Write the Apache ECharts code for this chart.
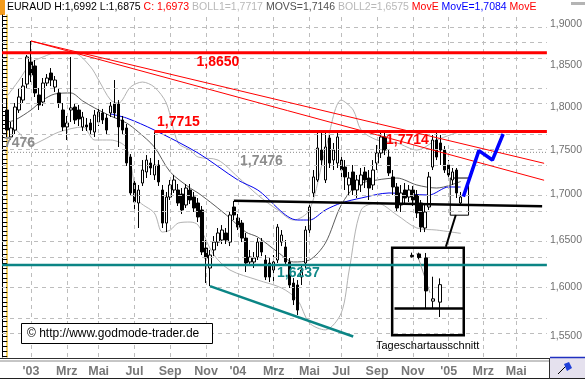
<!DOCTYPE html>
<html><head><meta charset="utf-8">
<script src="https://cdn.jsdelivr.net/npm/echarts@6/dist/echarts.min.js"></script>
<style>html,body{margin:0;padding:0;background:#fff}#c{width:585px;height:379px}</style>
</head><body><div id="c"></div>
<script>
// ---- weekly candles EUR/AUD, index 0 = 22.11.2002, [open, close, low, high]
const candles = [
[1.7966,1.7732,1.7640,1.8107],[1.7652,1.7756,1.7617,1.7826],[1.7732,1.8001,1.7686,1.8048],[1.7966,1.8119,1.7931,1.8226],
[1.8083,1.8249,1.8048,1.8345],[1.8273,1.8599,1.8226,1.8623],[1.8538,1.8381,1.8297,1.8794],[1.8490,1.8167,1.8119,1.8562],
[1.8143,1.8025,1.7966,1.8226],[1.8060,1.8285,1.8013,1.8345],[1.8285,1.8345,1.8249,1.8393],[1.8405,1.8321,1.8249,1.8465],
[1.8237,1.8321,1.8178,1.8369],[1.8167,1.8048,1.7990,1.8226],[1.7966,1.7768,1.7721,1.8048],[1.7768,1.7814,1.7617,1.7896],
[1.7966,1.7990,1.7826,1.8599],[1.8001,1.7849,1.7802,1.8048],[1.7966,1.7861,1.7779,1.8025],[1.7768,1.7884,1.7721,1.7943],
[1.7791,1.7768,1.7721,1.7872],[1.7814,1.7732,1.7686,1.7861],[1.7709,1.7907,1.7652,1.7966],[1.7826,1.7943,1.7779,1.8001],
[1.7931,1.7849,1.7802,1.7978],[1.7872,1.7732,1.7686,1.7919],[1.7931,1.8013,1.7884,1.8060],[1.8037,1.7931,1.7872,1.8321],
[1.8037,1.7768,1.7537,1.8083],[1.7849,1.7732,1.7686,1.7896],[1.7756,1.7355,1.7321,1.7802],[1.7422,1.7018,1.6984,1.7456],
[1.7129,1.6918,1.6797,1.7185],[1.6907,1.7051,1.6633,1.7107],[1.7129,1.7275,1.7096,1.7388],[1.7253,1.7388,1.7185,1.7445],
[1.7354,1.7298,1.7219,1.7411],[1.7219,1.7332,1.7163,1.7715],[1.7332,1.7141,1.7096,1.7388],[1.7051,1.6687,1.6633,1.7107],
[1.6687,1.6973,1.6589,1.7029],[1.6973,1.7107,1.6940,1.7163],[1.7051,1.7163,1.7018,1.7219],[1.7051,1.6907,1.6874,1.7118],
[1.7006,1.6830,1.6786,1.7073],[1.6885,1.7073,1.6852,1.7118],[1.7051,1.6940,1.6896,1.7118],[1.6973,1.6852,1.6808,1.7029],
[1.6907,1.6753,1.6698,1.6962],[1.6830,1.6375,1.6342,1.6874],[1.6417,1.6310,1.6046,1.6503],[1.6204,1.6342,1.6014,1.6396],
[1.6396,1.6481,1.6331,1.6546],[1.6481,1.6579,1.6438,1.6633],[1.6503,1.6611,1.6460,1.6665],[1.6579,1.6503,1.6460,1.6633],
[1.6481,1.6775,1.6438,1.6808],[1.6863,1.6775,1.6720,1.6929],[1.6742,1.6643,1.6611,1.6786],[1.6687,1.6524,1.6481,1.6720],
[1.6524,1.6257,1.6162,1.6579],[1.6268,1.6321,1.6225,1.6396],[1.6268,1.6310,1.6204,1.6374],[1.6321,1.6481,1.6289,1.6524],
[1.6481,1.6374,1.6331,1.6524],[1.6289,1.6109,1.6077,1.6342],[1.6257,1.6109,1.6056,1.6310],[1.6183,1.6268,1.6025,1.6342],
[1.6289,1.6643,1.6257,1.6676],[1.6481,1.6557,1.6438,1.6611],[1.6428,1.6268,1.6225,1.6503],[1.6268,1.6025,1.5994,1.6310],
[1.6046,1.5869,1.5817,1.6098],[1.6025,1.5765,1.5714,1.6077],[1.6109,1.6183,1.6025,1.6236],[1.6257,1.6611,1.6204,1.6654],
[1.6611,1.6863,1.6579,1.6918],[1.7018,1.7197,1.6973,1.7275],[1.7163,1.7525,1.7141,1.7698],[1.7502,1.7388,1.7332,1.7698],
[1.7163,1.7537,1.7129,1.7732],[1.7640,1.7354,1.7298,1.7675],[1.7388,1.7502,1.7275,1.7583],[1.7354,1.7652,1.7298,1.7698],
[1.7388,1.7275,1.7163,1.7445],[1.7309,1.7197,1.7051,1.7388],[1.7107,1.7185,1.6995,1.7253],[1.7253,1.7051,1.6995,1.7332],
[1.7051,1.7163,1.6962,1.7219],[1.7107,1.7219,1.7029,1.7298],[1.7253,1.7163,1.7073,1.7309],[1.7185,1.7073,1.6940,1.7275],
[1.7107,1.7275,1.7051,1.7388],[1.7354,1.7468,1.7275,1.7560],[1.7468,1.7652,1.7411,1.7714],[1.7652,1.7502,1.7445,1.7732],
[1.7422,1.7242,1.7208,1.7502],[1.7197,1.7085,1.6995,1.7275],[1.7085,1.6852,1.6808,1.7129],[1.6885,1.7018,1.6808,1.7107],
[1.7051,1.6962,1.6885,1.7129],[1.6973,1.7051,1.6918,1.7107],[1.7051,1.6940,1.6874,1.7096],[1.6995,1.6797,1.6742,1.7051],
[1.6907,1.6643,1.6589,1.6940],[1.6633,1.6808,1.6589,1.6885],[1.6863,1.7197,1.6830,1.7253],[1.7309,1.7617,1.7275,1.7675],
[1.7617,1.7422,1.7388,1.7698],[1.7583,1.7502,1.7332,1.7675],[1.7502,1.7275,1.7242,1.7548],[1.7332,1.7219,1.7163,1.7388],
[1.7163,1.7253,1.7107,1.7298],[1.7275,1.7018,1.6962,1.7298],[1.6907,1.6973,1.6875,1.7029]
];
// indicator lines: [week index, value]
const bollUpper = [[0,1.8131],[3,1.8321],[6,1.8526],[9,1.8599],[13,1.8660],[17,1.8648],[21,1.8478],[23,1.8321],[26,1.8083],[28,1.8048],[31,1.8237],[34,1.8297],[37,1.8237],[40,1.8048],[43,1.7583],[46,1.7502],[48,1.7422],[53,1.7388],[58,1.7197],[63,1.6995],[68,1.6830],[72,1.6720],[76,1.6830],[80,1.7502],[84,1.8083],[87,1.7966],[89,1.7732],[93,1.7617],[98,1.7583],[103,1.7502],[108,1.7617],[114,1.7717]];
const bollLower = [[0,1.7617],[2,1.7732],[6,1.7560],[9,1.7617],[13,1.7709],[19,1.7768],[22,1.7617],[26,1.7617],[30,1.7525],[33,1.6940],[37,1.6797],[39,1.6589],[41,1.6611],[43,1.6687],[46,1.6698],[48,1.6665],[52,1.6342],[56,1.6183],[63,1.6077],[69,1.5994],[73,1.5869],[76,1.5632],[80,1.5562],[84,1.5735],[86,1.6183],[89,1.6830],[93,1.6907],[98,1.6775],[103,1.6633],[108,1.6611],[114,1.6575]];
const movS = [[0,1.7826],[2,1.7849],[6,1.7966],[9,1.8083],[12,1.8155],[16,1.8167],[19,1.8072],[22,1.7990],[26,1.7896],[30,1.7814],[33,1.7709],[37,1.7537],[41,1.7253],[46,1.7073],[48,1.7018],[52,1.6885],[56,1.6742],[60,1.6589],[63,1.6535],[68,1.6374],[72,1.6268],[76,1.6289],[80,1.6470],[84,1.6885],[88,1.7107],[93,1.7163],[98,1.7185],[103,1.7107],[108,1.7073],[114,1.7146]];
const movE = [[26,1.7919],[30,1.7872],[37,1.7732],[48,1.7468],[58,1.7163],[63,1.7051],[73,1.6720],[76,1.6720],[80,1.6830],[84,1.6907],[89,1.6962],[96,1.7018],[106,1.6995],[111,1.7085],[114,1.7084]];
// drawn annotations
const trendA = [[6,1.8794],[135,1.7351]];
const trendB = [[6,1.8794],[135,1.7160]];
const tealTrend = [[51,1.6014],[87,1.5495]];
const supportLine = [[57,1.6932],[134.5,1.6870]];
const projection = [[114.7,1.6977],[118.6,1.7495],[122,1.7388],[124.7,1.7686]];
const level1865 = 1.8650, level17715 = 1.7715, level17476 = 1.7476, level16237 = 1.6237;
const lastClose = 1.6973;
const zoomBox = [[111.4,1.7185],[116,1.6773]];
const insetBox = [[96.8,1.6420],[114.8,1.5509]];
const connector = [[112.8,1.6775],[110.3,1.6431]];
// daily inset
const insetDays = ['24.01.','25.01.','26.01.','27.01.','28.01.'];
const insetCandles = [[1.7062,1.7058,1.7055,1.7070],[1.7066,1.7055,1.7050,1.7070],[1.7054,1.6954,1.6902,1.7069],[1.6923,1.6930,1.6902,1.6997],[1.6920,1.6973,1.6875,1.6992]];
const insetSupport = 1.6869;
const insetTrend = [[3.17,1.7069],[5.07,1.6948]];
// axes
const monthTicks = [6,15,23,32,41,50,58,67,76,84,93,102,111,119.7,128];
const monthLabels = ["'03","Mrz","Mai","Jul","Sep","Nov","'04","Mrz","Mai","Jul","Sep","Nov","'05","Mrz","Mai"];
const priceLabels = [1.55,1.60,1.65,1.70,1.75,1.80,1.85,1.90];
const gridPrices = [1.55,1.575,1.60,1.625,1.65,1.675,1.70,1.725,1.75,1.775,1.80,1.825,1.85,1.875,1.90];

const L = v => Math.log(v);
const fmt = v => v.toFixed(4).replace('.', ',');
const minorTicks = [];
for (let k = 306; k <= 382; k++) minorTicks.push(L(k / 200));
const yMin = L(1.5289), yMax = L(1.9116);
const xMin = -1.3, xMax = 135.7;

const ln = pts => pts.map(p => [p[0], L(p[1])]);
const lineS = (pts, color, width, z, extra) => Object.assign({
  type: 'line', data: ln(pts), symbol: 'none', silent: true, z: z,
  lineStyle: { color: color, width: width }, xAxisIndex: 0, yAxisIndex: 0
}, extra || {});

const chart = echarts.init(document.getElementById('c'), null, { renderer: 'canvas' });
const txt = (x, y, s, color, size, weight) => ({
  type: 'text', x: x, y: y, z: 100,
  style: { text: s, fill: color, font: (weight || 'normal') + ' ' + size + 'px "Liberation Sans", Arial, sans-serif', textVerticalAlign: 'middle' }
});

chart.setOption({
  animation: false,
  backgroundColor: '#fff',
  grid: [
    { left: 2, right: 35, top: 15, bottom: 22 },
    { left: 394.5, top: 247, width: 70, height: 89 }
  ],
  xAxis: [
    { type: 'value', gridIndex: 0, min: xMin, max: xMax,
      axisLine: { show: false }, axisTick: { show: false }, splitLine: { show: false },
      axisLabel: { customValues: monthTicks, formatter: v => monthLabels[monthTicks.indexOf(v)],
        color: '#787878', fontWeight: 'bold', fontSize: 12.5, margin: 8, fontFamily: '"Liberation Sans", Arial' } },
    { type: 'value', gridIndex: 1, min: 0, max: 10, show: false }
  ],
  yAxis: [
    { type: 'value', gridIndex: 0, position: 'right', min: yMin, max: yMax,
      axisLine: { show: true, lineStyle: { color: '#f2c12e', width: 1.5 } },
      axisTick: { show: true, inside: true, length: 3, customValues: minorTicks, lineStyle: { color: '#000' } },
      axisLabel: { customValues: priceLabels.map(L), formatter: v => fmt(Math.exp(v)), color: '#707070', fontSize: 10.5, margin: 3, fontFamily: '"Liberation Sans", Arial' },
      splitLine: { show: false } },
    { type: 'value', gridIndex: 0, position: 'left', min: yMin, max: yMax,
      axisLine: { show: true, lineStyle: { color: '#000', width: 1 } },
      axisTick: { show: true, inside: true, length: 3, customValues: minorTicks, lineStyle: { color: '#000' } },
      axisLabel: { show: false }, splitLine: { show: false } },
    { type: 'value', gridIndex: 1, min: 1.68174, max: 1.70871, show: false }
  ],
  series: [
    { type: 'line', data: [], xAxisIndex: 0, yAxisIndex: 0, z: 1, silent: true,
      markLine: { silent: true, symbol: ['none', 'none'], label: { show: false },
        lineStyle: { color: '#bdbdbd', type: [4, 4], width: 1 },
        data: gridPrices.map(p => ({ yAxis: L(p) })).concat(monthTicks.map(t => ({ xAxis: t }))) } },
    lineS([[xMin, level17476], [xMax, level17476]], '#8a8a8a', 1, 2, { lineStyle: { color: '#8a8a8a', width: 1, type: [1, 2] } }),
    lineS(bollUpper, '#b2b2b2', 1, 3, { smooth: 0.3 }),
    lineS(bollLower, '#b2b2b2', 1, 3, { smooth: 0.3 }),
    lineS(movS, '#5c5c5c', 1, 3, { smooth: 0.3 }),
    lineS(movE, '#0000ee', 1, 3, { smooth: 0.3 }),
    { type: 'candlestick', xAxisIndex: 0, yAxisIndex: 0, z: 4, silent: true, barWidth: 3,
      dimensions: ['idx', 'open', 'close', 'lowest', 'highest'],
      encode: { x: 'idx', y: ['open', 'close', 'lowest', 'highest'] },
      data: candles.map((c, i) => [i, L(c[0]), L(c[1]), L(c[2]), L(c[3])]),
      itemStyle: { color: '#fff', color0: '#000', borderColor: '#000', borderColor0: '#000', borderColorDoji: '#000', borderWidth: 1 },
      markLine: { silent: true, symbol: ['none', 'none'], lineStyle: { opacity: 0 },
        label: { show: true, position: 'end', distance: 1, formatter: fmt(lastClose), color: '#fff', backgroundColor: '#000', padding: [2, 2, 1, 2], fontSize: 10.5, fontFamily: '"Liberation Sans", Arial' },
        data: [{ yAxis: L(lastClose) }] } },
    lineS([[xMin, level1865], [xMax, level1865]], '#ff0000', 3, 5),
    lineS([[37, level17715], [xMax, level17715]], '#ff0000', 3, 5),
    lineS([[xMin, level16237], [xMax, level16237]], '#0b8585', 2.5, 5),
    lineS(trendA, '#ff0000', 1, 5),
    lineS(trendB, '#ff0000', 1, 5),
    lineS(tealTrend, '#0b8585', 2.5, 5),
    lineS(supportLine, '#000', 2.5, 5),
    lineS(projection, '#0000ff', 3.5, 5),
    { type: 'line', data: [], xAxisIndex: 0, yAxisIndex: 0, z: 6, silent: true,
      markArea: { silent: true, data: [
        [{ xAxis: insetBox[0][0], yAxis: L(insetBox[0][1]), itemStyle: { color: '#fff', borderColor: '#000', borderWidth: 2.5 } },
         { xAxis: insetBox[1][0], yAxis: L(insetBox[1][1]) }],
        [{ xAxis: zoomBox[0][0], yAxis: L(zoomBox[0][1]), itemStyle: { color: 'rgba(0,0,0,0)', borderColor: '#000', borderWidth: 1 } },
         { xAxis: zoomBox[1][0], yAxis: L(zoomBox[1][1]) }]
      ] },
      markLine: { silent: true, symbol: ['none', 'none'], label: { show: false }, lineStyle: { color: '#000', width: 2, type: 'solid' },
        data: [[{ coord: [connector[0][0], L(connector[0][1])] }, { coord: [connector[1][0], L(connector[1][1])] }]] } },
    { type: 'candlestick', xAxisIndex: 1, yAxisIndex: 2, z: 10, silent: true, barWidth: 4,
      dimensions: ['idx', 'open', 'close', 'lowest', 'highest'],
      encode: { x: 'idx', y: ['open', 'close', 'lowest', 'highest'] },
      data: insetCandles.map((c, i) => [i + 2.5, c[0], c[1], c[2], c[3]]),
      itemStyle: { color: '#fff', color0: '#000', borderColor: '#000', borderColor0: '#000', borderColorDoji: '#000', borderWidth: 1 },
      markLine: { silent: true, symbol: ['none', 'none'], label: { show: false }, lineStyle: { color: '#000', width: 2.5, type: 'solid' },
        data: [{ yAxis: insetSupport }] } },
    { type: 'line', xAxisIndex: 1, yAxisIndex: 2, z: 9, silent: true, symbol: 'none', data: insetTrend, lineStyle: { color: '#9a9a9a', width: 1 } }
  ],
  graphic: [
    { type: 'rect', shape: { x: 0, y: 0, width: 5, height: 15 }, style: { fill: '#f39b1c' } },
    { type: 'text', x: 7, y: 7.5, z: 100, style: {
      text: '{k|EURAUD H:1,6992 L:1,6875 }{r|C: 1,6973 }{g|BOLL1=1,7717 }{d|MOVS=1,7146 }{g|BOLL2=1,6575 }{r|MovE }{b|MovE=1,7084 }{r|MovE}',
      textVerticalAlign: 'middle', font: '10.5px "Liberation Sans", Arial',
      rich: { k: { fill: '#000', font: '10.5px "Liberation Sans", Arial' }, r: { fill: '#ff0000', font: '10.5px "Liberation Sans", Arial' },
        g: { fill: '#b8b8b8', font: '10.5px "Liberation Sans", Arial' }, d: { fill: '#505050', font: '10.5px "Liberation Sans", Arial' },
        b: { fill: '#0000ff', font: '10.5px "Liberation Sans", Arial' } } } },
    { type: 'rect', shape: { x: 571, y: 2, width: 14, height: 3 }, style: { fill: '#b4b4b4' } },
    { type: 'line', shape: { x1: 0, y1: 358.5, x2: 550, y2: 358.5 }, style: { stroke: '#303030', lineWidth: 1 } },
    { type: 'line', shape: { x1: 0, y1: 361, x2: 550, y2: 361 }, style: { stroke: '#8c8c8c', lineWidth: 1 } },
    { type: 'line', shape: { x1: 0, y1: 378.5, x2: 585, y2: 378.5 }, style: { stroke: '#202020', lineWidth: 1 } },
    { type: 'rect', shape: { x: 550, y: 358, width: 35, height: 20 }, style: { fill: '#e5e1ee' } },
    { type: 'line', shape: { x1: 550, y1: 357.5, x2: 585, y2: 357.5 }, style: { stroke: '#2030c0', lineWidth: 1.5 } },
    { type: 'line', shape: { x1: 549.5, y1: 358, x2: 549.5, y2: 379 }, style: { stroke: '#303030', lineWidth: 1 } },
    { type: 'line', shape: { x1: 558, y1: 374, x2: 566, y2: 366 }, style: { stroke: '#000', lineWidth: 1 } },
    { type: 'polygon', shape: { points: [[564, 364], [569, 362], [572, 368], [567, 371]] }, style: { fill: '#1f3fd8' } },
    { type: 'rect', z: 100, shape: { x: 21.5, y: 323.5, width: 191, height: 20 }, style: { fill: '#fff', stroke: '#000', lineWidth: 1 } },
    txt(27, 334, '\u00a9 http://www.godmode-trader.de', '#000', 12),
    txt(196.5, 62, '1,8650', '#ff0000', 14, 'bold'),
    txt(157, 122, '1,7715', '#ff0000', 14, 'bold'),
    txt(386, 140, '1,7714', '#ff0000', 14, 'bold'),
    txt(240, 161.5, '1,7476', '#8c8c8c', 14, 'bold'),
    txt(4, 143, '7476', '#8c8c8c', 14, 'bold'),
    txt(277, 273, '1,6237', '#138a8a', 14, 'bold'),
    txt(376, 346, 'Tageschartausschnitt', '#000', 11)
  ]
});
</script></body></html>
